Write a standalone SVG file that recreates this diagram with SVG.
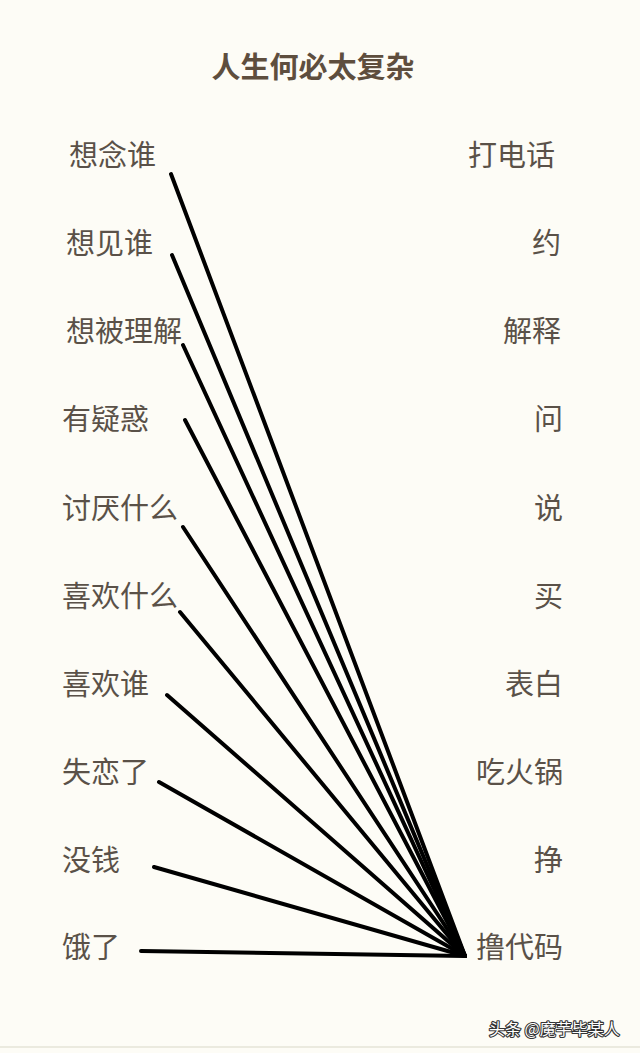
<svg xmlns="http://www.w3.org/2000/svg" width="640" height="1053" viewBox="0 0 640 1053">
<style>
.bg{fill:#fdfcf6}
.t{font-family:"Noto Sans CJK SC","Noto Sans",sans-serif;font-size:29px;fill:#5a5148}
.r{text-anchor:end}
.title{font-family:"Noto Sans CJK SC","Noto Sans",sans-serif;font-size:29px;font-weight:bold;fill:#5e4e3e}
.wm{font-family:"Noto Sans CJK SC",sans-serif;font-size:16px;fill:#ffffff;stroke:#333;stroke-width:2.2px;paint-order:stroke;stroke-linejoin:round}
.c{stroke:#000;stroke-width:4;stroke-linecap:round;fill:none}
</style>
<rect class="bg" x="0" y="0" width="640" height="1053"/>
<rect x="0" y="1046" width="640" height="2" fill="#ebeadf"/>
<text class="title" x="313" y="78" text-anchor="middle">人生何必太复杂</text>
<g id="left">
<g id="l1"><text class="t" x="69" y="166">想念谁</text></g>
<g id="l2"><text class="t" x="66" y="254">想见谁</text></g>
<g id="l3"><text class="t" x="66" y="342">想被理解</text></g>
<g id="l4"><text class="t" x="62" y="430">有疑惑</text></g>
<g id="l5"><text class="t" x="62" y="519">讨厌什么</text></g>
<g id="l6"><text class="t" x="62" y="607">喜欢什么</text></g>
<g id="l7"><text class="t" x="62" y="695">喜欢谁</text></g>
<g id="l8"><text class="t" x="62" y="783">失恋了</text></g>
<g id="l9"><text class="t" x="62" y="871">没钱</text></g>
<g id="l10"><text class="t" x="62" y="958">饿了</text></g>
</g>
<g id="right">
<g id="r1"><text class="t r" x="555" y="166">打电话</text></g>
<g id="r2"><text class="t r" x="561" y="254">约</text></g>
<g id="r3"><text class="t r" x="561" y="342">解释</text></g>
<g id="r4"><text class="t r" x="563" y="430">问</text></g>
<g id="r5"><text class="t r" x="563" y="519">说</text></g>
<g id="r6"><text class="t r" x="563" y="607">买</text></g>
<g id="r7"><text class="t r" x="563" y="695">表白</text></g>
<g id="r8"><text class="t r" x="563" y="783">吃火锅</text></g>
<g id="r9"><text class="t r" x="563" y="871">挣</text></g>
<g id="r10"><text class="t r" x="563" y="958">撸代码</text></g>
</g>
<g id="connectors">
<line class="c" x1="171" y1="174" x2="465" y2="956"/>
<line class="c" x1="172" y1="255" x2="465" y2="956"/>
<line class="c" x1="183" y1="345" x2="465" y2="956"/>
<line class="c" x1="185" y1="420" x2="465" y2="956"/>
<line class="c" x1="183" y1="527" x2="465" y2="956"/>
<line class="c" x1="180" y1="612" x2="465" y2="956"/>
<line class="c" x1="167" y1="695" x2="465" y2="956"/>
<line class="c" x1="159" y1="782" x2="465" y2="956"/>
<line class="c" x1="154" y1="867" x2="465" y2="956"/>
<line class="c" x1="141" y1="951" x2="465" y2="956"/>
</g>
<text class="wm" x="489" y="1035">头条 @魔芋毕某人</text>
</svg>
